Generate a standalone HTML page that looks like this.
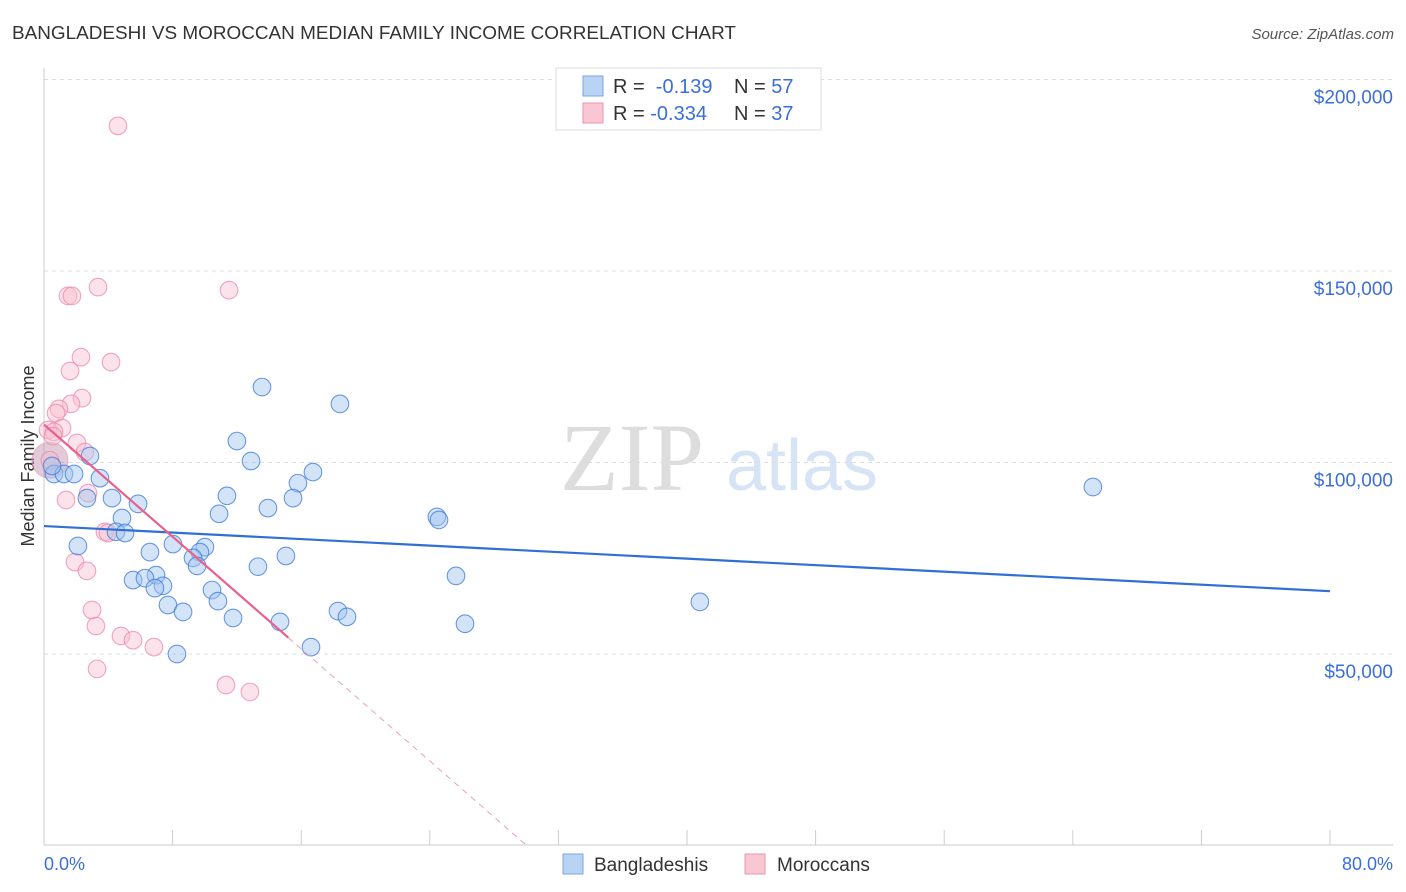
<!DOCTYPE html>
<html><head><meta charset="utf-8"><style>
body{margin:0;background:#fff;font-family:"Liberation Sans",sans-serif}
#wrap{position:relative;width:1406px;height:892px;overflow:hidden}
</style></head><body>
<div id="wrap">
<svg id="svg" width="1406" height="892" xmlns="http://www.w3.org/2000/svg" font-family="Liberation Sans, sans-serif">
<text x="12" y="39" font-size="18" fill="#333" textLength="724" lengthAdjust="spacingAndGlyphs">BANGLADESHI VS MOROCCAN MEDIAN FAMILY INCOME CORRELATION CHART</text>
<text x="1394" y="39" font-size="15" fill="#555" font-style="italic" text-anchor="end">Source: ZipAtlas.com</text>
<text transform="translate(34,456) rotate(-90)" font-size="18" fill="#333" text-anchor="middle">Median Family Income</text>
<g>
<text x="632" y="490" font-size="96" fill="#ddd" font-family="Liberation Serif, serif" text-anchor="middle">ZIP</text>
<text x="802" y="490" font-size="72" fill="#d6e4f5" text-anchor="middle">atlas</text>
</g>
<g id="grid"></g>
<line x1="44" y1="68" x2="44" y2="845" stroke="#ccc"/>
<line x1="44" y1="845" x2="1393" y2="845" stroke="#ccc"/>
<g id="xticks"></g>
<g id="pts"></g>
<g id="trend"></g>
<text x="44" y="870" font-size="18" fill="#3a6fd8">0.0%</text>
<text x="1393" y="870" font-size="18" fill="#3a6fd8" text-anchor="end">80.0%</text>
<g>
<rect x="556" y="68" width="265" height="62" fill="#fff" stroke="#ddd"/>
<rect x="583" y="76" width="20" height="20" fill="#b9d3f5" stroke="#7aa4e0"/>
<rect x="583" y="103" width="20" height="20" fill="#f9c6d4" stroke="#eb94ae"/>
<text x="613" y="93" font-size="20" fill="#333">R = <tspan fill="#3a6fd8">&#160;-0.139</tspan><tspan x="734">N = </tspan><tspan fill="#3a6fd8">57</tspan></text>
<text x="613" y="120" font-size="20" fill="#333">R = <tspan fill="#3a6fd8">-0.334</tspan><tspan x="734">N = </tspan><tspan fill="#3a6fd8">37</tspan></text>
</g>
<g>
<rect x="563" y="854" width="20" height="20" fill="#b9d3f5" stroke="#7aa4e0"/>
<text x="594" y="871" font-size="19" fill="#333">Bangladeshis</text>
<rect x="745" y="854" width="20" height="20" fill="#f9c6d4" stroke="#eb94ae"/>
<text x="777" y="871" font-size="19" fill="#333">Moroccans</text>
</g>
</svg>
</div>
<script>
const yTicks=[50000,100000,150000,200000];
const yTickLabels=["$50,000","$100,000","$150,000","$200,000"];
const xTicks=[0,8,16,24,32,40,48,56,64,72,80];
const blueX=[13.56,18.41,12.0,12.88,2.86,0.62,1.24,1.87,3.48,16.73,15.8,11.38,4.23,15.49,2.67,5.85,13.93,10.89,24.44,24.57,4.85,4.48,5.04,2.11,6.59,8.02,10.01,9.70,15.05,13.31,9.27,9.52,6.97,5.54,6.28,7.40,6.90,25.63,65.25,10.45,10.82,7.71,8.65,11.76,18.29,18.85,14.68,26.19,40.8,16.61,8.27,0.5];
const blueY=[119.7,115.3,105.6,100.4,101.7,97.0,97.0,97.0,95.9,97.5,94.6,91.3,90.7,90.7,90.7,89.2,88.1,86.6,85.8,85.0,85.5,81.9,81.6,78.2,76.6,78.7,77.9,76.6,75.6,72.8,75.1,73.0,70.6,69.3,69.8,67.8,67.2,70.4,93.6,66.7,63.8,62.8,61.0,59.4,61.2,59.7,58.4,57.9,63.6,51.8,50.0,99.1];
const pinkX=[4.60,3.36,11.51,1.49,1.74,2.30,4.17,1.62,2.36,1.68,0.93,0.75,1.12,0.25,0.62,0.56,2.05,2.55,0.37,2.74,1.37,3.79,1.93,2.67,2.99,3.23,4.79,5.54,6.84,3.30,11.32,12.81,3.98];
const pinkY=[187.9,145.8,145.0,143.5,143.5,127.5,126.2,123.9,116.8,115.3,114.0,112.9,109.0,108.5,108.0,106.9,105.1,102.7,100.6,92.0,90.2,81.9,74.0,71.7,61.5,57.3,54.7,53.6,51.8,46.1,41.9,40.1,81.6];
const blueTrend=[83.4,66.4];
const pinkTrend=[109.9,-3.66];
const NS="http://www.w3.org/2000/svg";
const X0=44,X1=1330,Y0=845.5,PXK=191.5/50;
function sx(p){return X0+p/80*(X1-X0);}
function sy(k){return Y0-k*PXK;}
function mk(t,a,p){const e=document.createElementNS(NS,t);for(const k in a)e.setAttribute(k,a[k]);p.appendChild(e);return e;}
const grid=document.getElementById('grid');
yTicks.forEach((v,i)=>{
 const y=sy(v/1000);
 const l=mk('line',{x1:44,x2:1393,y1:y,y2:y,stroke:'#ddd','stroke-dasharray':'4,4'},grid);
 
 
 const t=mk('text',{x:1393,y:y+24,'font-size':19,fill:'#3a6fd8','text-anchor':'end'},grid);
 t.textContent=yTickLabels[i];
 
 
});
const xt=document.getElementById('xticks');
xTicks.forEach(v=>{
 const l=mk('line',{x1:sx(v),x2:sx(v),y1:830,y2:845,stroke:'#ccc'},xt);
 
 
});
const pts=document.getElementById('pts');
const big1=mk('circle',{cx:sx(0.37),cy:sy(100.6),r:18,fill:'rgba(190,140,170,0.45)',stroke:'rgba(235,140,170,0.6)'},pts);


pinkX.forEach((x,i)=>{
 const c=mk('circle',{cx:sx(x),cy:sy(pinkY[i]),r:8.8,fill:'rgba(249,190,208,0.45)',stroke:'rgba(235,130,165,0.7)','stroke-width':1.1},pts);
 
 
});
blueX.forEach((x,i)=>{
 const c=mk('circle',{cx:sx(x),cy:sy(blueY[i]),r:8.8,fill:'rgba(160,195,240,0.45)',stroke:'rgba(60,120,215,0.75)','stroke-width':1.1},pts);
 
 
});
const tr=document.getElementById('trend');
const bl=mk('line',{x1:sx(0),y1:sy(blueTrend[0]),x2:sx(80),y2:sy(blueTrend[1]),stroke:'#2f6fd6','stroke-width':2.2},tr);


const pEnd=15.2,pZero=-pinkTrend[0]/pinkTrend[1];
const pl=mk('line',{x1:sx(0),y1:sy(pinkTrend[0]),x2:sx(pEnd),y2:sy(pinkTrend[0]+pinkTrend[1]*pEnd),stroke:'#e8608c','stroke-width':2.2},tr);


const pd=mk('line',{x1:sx(pEnd),y1:sy(pinkTrend[0]+pinkTrend[1]*pEnd),x2:sx(pZero),y2:sy(0),stroke:'#eba0b8','stroke-width':1,'stroke-dasharray':'6,5'},tr);


</script>
</body></html>
